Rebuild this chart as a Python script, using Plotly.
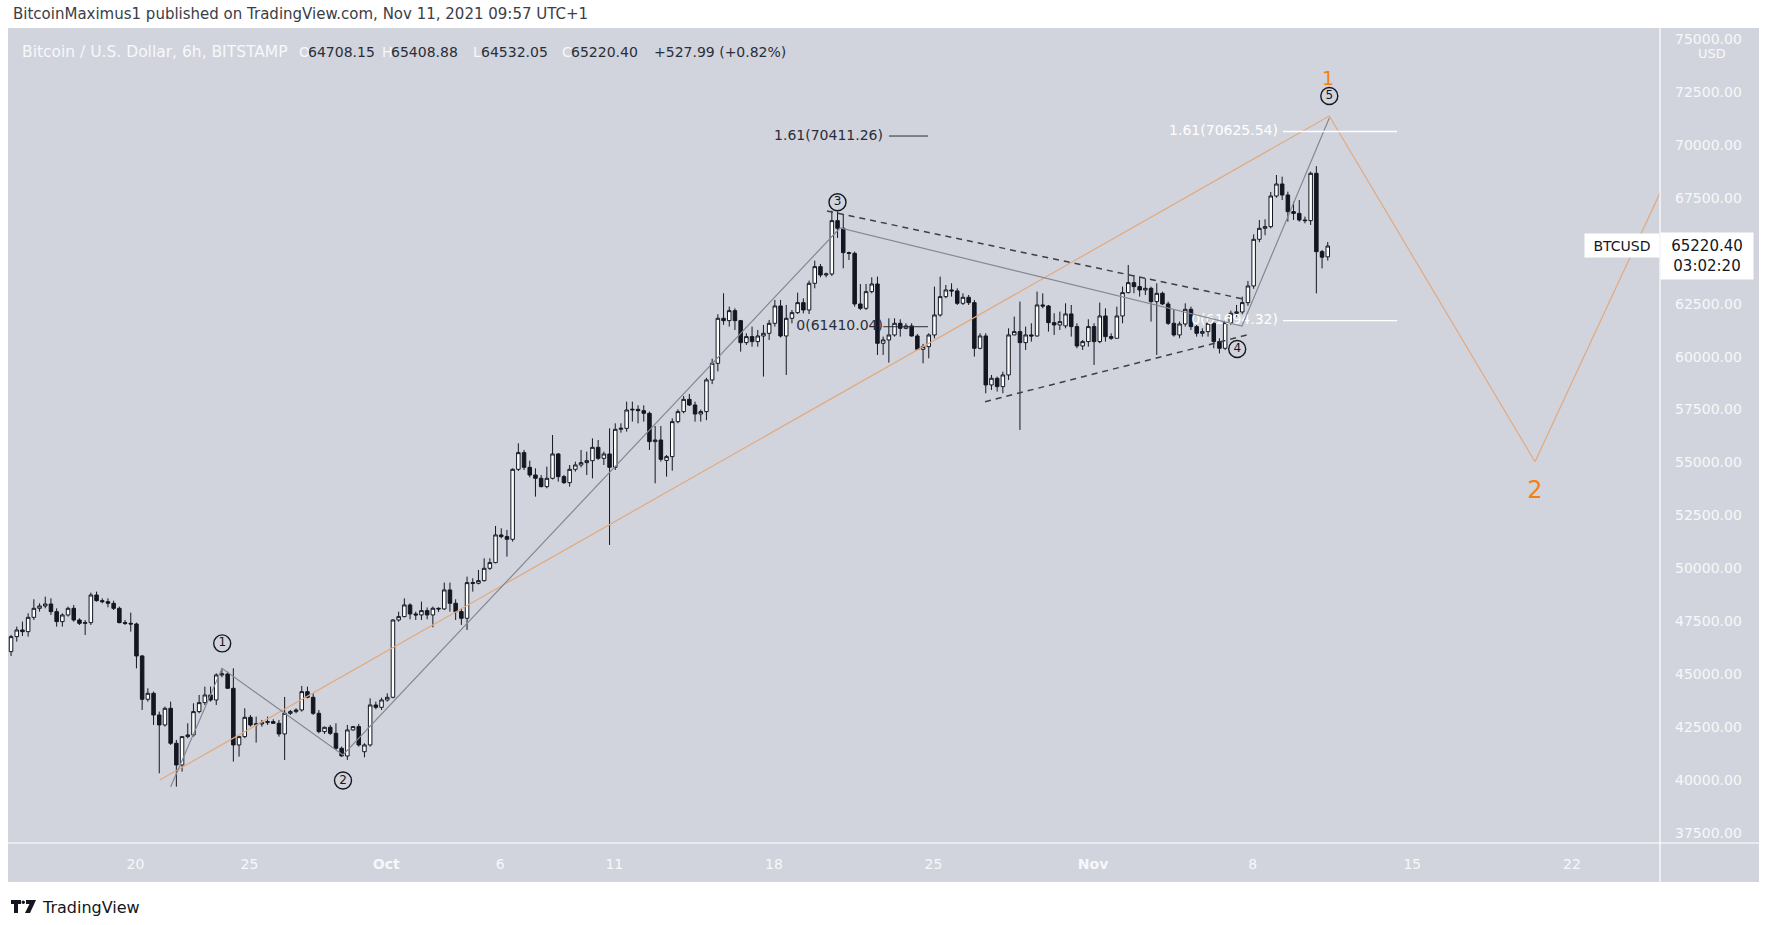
import plotly.graph_objects as go
import pandas as pd

# ---------------- data (BTCUSD, Bitstamp, 6h candles) ----------------
start_time = "2021-09-14 13:00"
opens = [46074, 46782, 47096, 47018, 47694, 48119, 48229, 48323, 47962, 47490,
         47804, 48119, 47568, 47411, 47443, 48748, 48481, 48434, 48355, 48119,
         47443, 47411, 47380, 45870, 43825, 44108, 43085, 42614, 43400, 41749,
         40726, 42063, 42142, 43243, 43667, 44029, 43793, 44973, 45020, 44344,
         41670, 42063, 42975, 42614, 42661, 42724, 42771, 42692, 42189, 43164,
         43243, 43321, 44186, 43919, 43164, 42299, 42503, 42220, 41512, 41150,
         42378, 42535, 41350, 41670, 43557, 43447, 43793, 43919, 47568, 47726,
         48278, 47853, 47806, 48011, 47806, 48121, 48090, 48986, 48357, 47963,
         47649, 49332, 49301, 49426, 50008, 50276, 51582, 51503, 51377, 54680,
         55467, 54774, 54413, 54256, 53862, 54256, 55404, 54334, 54051, 54680,
         54885, 54995, 55089, 55718, 55200, 55404, 54774, 56568, 56615, 57480,
         57511, 57449, 57323, 55986, 56064, 55100, 55278, 56930, 57402, 57983,
         57716, 57291, 57404, 58900, 59684, 61808, 61698, 62170, 61698, 60660,
         60943, 60707, 60974, 61100, 61572, 62390, 60974, 61808, 62075, 62547,
         62201, 63460, 64246, 63853, 63900, 66417, 66055, 64907, 64875, 62484,
         62280, 63066, 63428, 60628, 60786, 61021, 61572, 61336, 61446, 60974,
         60345, 60471, 61021, 61965, 62830, 63145, 63100, 62516, 62799, 62547,
         60392, 60974, 58662, 58977, 58583, 59134, 61022, 61179, 60660, 61022,
         60974, 62437, 62390, 61601, 61494, 61450, 62013, 61415, 60503, 60707,
         61415, 60707, 61918, 60943, 60865, 61918, 63019, 63491, 63303, 63145,
         63223, 62595, 62988, 62485, 61572, 61022, 61540, 62233, 61415, 61100,
         61180, 61573, 60707, 60393, 61604, 62044, 62107, 62548, 63334, 65536,
         66055, 66134, 67581, 68147, 67628, 66842, 66760, 66449, 66418, 68651,
         64954, 64708.15]
highs = [46861, 47254, 47490, 47883, 48544, 48355, 48670, 48591, 48119, 47883,
         48198, 48277, 47647, 47568, 48858, 48906, 48591, 48591, 48481, 48198,
         47568, 47915, 47443, 45917, 44344, 44186, 43243, 43478, 43715, 41906,
         42063, 42692, 43636, 44029, 44423, 44423, 45052, 45287, 45130, 45287,
         42063, 43400, 43085, 43007, 42850, 43007, 42881, 42850, 43935, 43321,
         43400, 44454, 44423, 44108, 43321, 42535, 42614, 42692, 41591, 42614,
         42567, 42661, 41749, 43872, 43715, 43900, 44108, 47600, 47962, 48591,
         48357, 47963, 48435, 48160, 48200, 48160, 49332, 49332, 48546, 48121,
         49615, 49537, 49930, 50480, 50480, 52006, 51896, 51818, 54727, 55907,
         55593, 55089, 54727, 54413, 54806, 56300, 55450, 54413, 54884, 55042,
         55593, 55514, 56143, 56064, 55514, 56615, 56851, 56851, 57873, 57873,
         57700, 57700, 57402, 56725, 56725, 55357, 57087, 57512, 58141, 58235,
         57873, 57500, 59000, 59900, 62000, 62990, 62360, 62280, 61730, 61100,
         61415, 61257, 61494, 61730, 62673, 62673, 62437, 62201, 63019, 62752,
         63585, 64529, 64372, 63963, 66889, 66842, 66731, 64955, 64955, 63428,
         63428, 63743, 63774, 60943, 61808, 61808, 61761, 61572, 61572, 61069,
         60597, 61100, 63303, 63775, 63381, 63460, 63223, 62988, 62909, 62673,
         61100, 61100, 59134, 59056, 59291, 61336, 61887, 62595, 61415, 61572,
         63067, 62988, 62437, 62043, 62122, 62516, 62437, 61572, 60786, 61761,
         61572, 62548, 62280, 61100, 62358, 63303, 64325, 63853, 63774, 63696,
         63303, 63460, 63066, 62595, 62201, 61650, 62516, 62359, 61493, 61336,
         61887, 61650, 60864, 61730, 62170, 62437, 62831, 63570, 65771, 66449,
         66480, 67770, 68572, 68494, 67785, 67314, 67392, 66607, 68729, 68990,
         65033, 65408.88]
lows = [45870, 46546, 46813, 46782, 47568, 47962, 48119, 47804, 47254, 47254,
        47726, 47490, 47332, 46861, 47332, 48434, 48355, 48167, 48040, 47411,
        47332, 47018, 45287, 43321, 43715, 42614, 40333, 42535, 41670, 39703,
        40411, 41985, 42063, 43164, 43557, 43715, 43557, 44863, 44422, 40883,
        41119, 41985, 42535, 41780, 42535, 42614, 42661, 42063, 40962, 43085,
        43164, 43243, 43872, 43085, 42220, 42189, 42142, 41433, 41119, 40962,
        42346, 41591, 41087, 41591, 43353, 43320, 43715, 43872, 47490, 47694,
        47602, 47570, 47570, 47600, 47225, 47950, 48042, 47963, 47570, 47334,
        47098, 48907, 49250, 49379, 49930, 50244, 51424, 50559, 51267, 54600,
        54649, 54303, 53390, 53830, 53783, 54200, 54098, 53988, 53862, 54570,
        54774, 54413, 54256, 55121, 54885, 51110, 54649, 56410, 56458, 56930,
        56850, 56930, 55593, 54020, 55042, 54334, 54617, 56851, 57323, 57669,
        56930, 56930, 57000, 58700, 59300, 61500, 61415, 61257, 60235, 60550,
        60470, 60470, 59056, 60786, 61415, 60900, 59134, 61572, 62012, 62043,
        62012, 63223, 63743, 63743, 63806, 65600, 64168, 64560, 62358, 62201,
        62201, 62988, 60078, 60078, 59716, 60943, 60943, 61289, 60943, 60314,
        59684, 59920, 60864, 61887, 62752, 62830, 62437, 62437, 62437, 60000,
        60345, 58269, 58426, 58347, 58269, 58898, 61022, 56539, 60314, 60707,
        60943, 62280, 61179, 61022, 61258, 61336, 60943, 60393, 60314, 60471,
        59606, 60629, 60708, 60786, 60865, 61572, 62988, 62988, 62831, 62909,
        61651, 60078, 62437, 61494, 60943, 60865, 61415, 61258, 60943, 60943,
        60943, 60393, 60150, 60314, 61500, 61887, 62000, 62400, 63200, 65400,
        65730, 66055, 67500, 67392, 66370, 66449, 66370, 66291, 66213, 62988,
        64168, 64532.05]
closes = [46782, 47096, 47018, 47694, 48119, 48229, 48323, 47962, 47490, 47804,
          48119, 47568, 47411, 47443, 48748, 48481, 48434, 48355, 48119, 47443,
          47411, 47380, 45870, 43825, 44108, 43085, 42614, 43400, 41749, 40726,
          42063, 42142, 43243, 43667, 44029, 43793, 44973, 45020, 44344, 41670,
          42063, 42975, 42614, 42661, 42724, 42771, 42692, 42189, 43164, 43243,
          43321, 44186, 43919, 43164, 42299, 42503, 42220, 41512, 41150, 42378,
          42535, 41670, 41670, 43557, 43447, 43793, 43919, 47568, 47726, 48278,
          47853, 47806, 48011, 47806, 48121, 48090, 48986, 48357, 47963, 47649,
          49332, 49301, 49426, 50008, 50276, 51582, 51503, 51377, 54680, 55467,
          54774, 54413, 54256, 53862, 54256, 55404, 54334, 54051, 54680, 54885,
          54995, 55089, 55718, 55200, 55404, 54774, 56568, 56615, 57480, 57511,
          57449, 57323, 55986, 56064, 55152, 55278, 56930, 57402, 57983, 57716,
          57291, 57404, 58900, 59684, 61808, 61698, 62170, 61698, 60660, 60943,
          60707, 60974, 61100, 61572, 62390, 60974, 61808, 62075, 62547, 62201,
          63460, 64246, 63853, 63900, 66417, 66055, 64907, 64875, 62484, 62280,
          63066, 63428, 60628, 60786, 61021, 61572, 61336, 61446, 60974, 60345,
          60471, 61021, 61965, 62830, 63145, 63100, 62516, 62799, 62547, 60392,
          60974, 58662, 58977, 58583, 59134, 61022, 61179, 60660, 61022, 60974,
          62437, 62390, 61601, 61494, 61650, 62013, 61415, 60503, 60707, 61415,
          60707, 61918, 60943, 60865, 61918, 63019, 63491, 63303, 63145, 63223,
          62595, 62988, 62485, 61572, 61022, 61540, 62233, 61415, 61100, 61180,
          61573, 60707, 60393, 61604, 62044, 62107, 62548, 63334, 65536, 66055,
          66134, 67581, 68147, 67628, 66842, 66760, 66449, 66418, 68651, 64954,
          64692.41, 65220.40]

# x-axis ticks
tick_dates = ["2021-09-20", "2021-09-25", "2021-10-01", "2021-10-06", "2021-10-11",
              "2021-10-18", "2021-10-25", "2021-11-01", "2021-11-08", "2021-11-15", "2021-11-22"]
tick_labels = ["20", "25", "<b>Oct</b>", "6", "11", "18", "25", "<b>Nov</b>", "8", "15", "22"]
# 65000.00 sits under the last-price box, so it is not shown
price_ticks = [37500, 40000, 42500, 45000, 47500, 50000, 52500, 55000, 57500,
               60000, 62500, 67500, 70000, 72500, 75000]

# drawings (time, price)
orange_t = ["2021-09-21 01:28", "2021-11-11 08:38", "2021-11-20 09:10", "2021-11-27 14:40"]
orange_p = [40016, 71357, 55040, 71762]
wave_t = ["2021-09-21 13:03", "2021-09-23 19:03", "2021-09-29 02:25",
          "2021-10-20 21:36", "2021-11-07 12:42", "2021-11-11 08:38"]
wave_p = [39700, 45288, 41196, 66070, 61445, 71262]
upper_t = ["2021-10-20 07:55", "2021-11-07 16:48"]
upper_p = [66873, 62695]
lower_t = ["2021-10-27 06:14", "2021-11-07 18:00"]
lower_p = [57872, 61020]
circle_labels = ["1", "2", "3", "4", "5"]
circle_t = ["2021-09-23 19:16", "2021-09-29 02:25", "2021-10-20 18:57",
            "2021-11-07 07:41", "2021-11-11 08:38"]
circle_p = [46463, 39992, 67288, 60359, 72301]
fib_black_levels = [70411.26, 61410.04]
fib_black_names = ["1.61", "0"]
fib_white_levels = [70625.54, 61694.32]
fib_white_names = ["1.61", "0"]
wave_big_labels = ["1", "2"]
wave_big_t = ["2021-11-11 07:12", "2021-11-20 09:10"]
wave_big_p = [73050, 53624]

times = pd.date_range(start_time, periods=len(opens), freq="6h")

# ---------------- styling ----------------
BG = "#d1d4dc"
DARK = "#131722"
LIGHT = "#f7f8fb"
FONT = "DejaVu Sans, Liberation Sans, sans-serif"
W, H = 1770, 925
L, R, T, B = 8, 1660, 28, 843


def px(x):
    return (x - L) / (R - L)


def py(y):
    return (B - y) / (B - T)


fig = go.Figure()

# fib labels (sit underneath candles)
fig.add_trace(go.Scatter(
    x=["2021-10-22 18:50"] * 2, y=fib_black_levels, mode="text",
    text=[f"{n}({v:.2f})" for n, v in zip(fib_black_names, fib_black_levels)],
    textposition="middle left", textfont=dict(family=FONT, size=14, color="#2a2e39"),
    hoverinfo="skip", showlegend=False))
fig.add_trace(go.Scatter(
    x=["2021-11-09 02:38"] * 2, y=fib_white_levels, mode="text",
    text=[f"{n}({v:.2f})" for n, v in zip(fib_white_names, fib_white_levels)],
    textposition="middle left", textfont=dict(family=FONT, size=14, color="#ffffff"),
    hoverinfo="skip", showlegend=False))

fig.add_trace(go.Candlestick(
    x=times, open=opens, high=highs, low=lows, close=closes,
    increasing=dict(fillcolor="#ffffff", line=dict(color=DARK, width=1)),
    decreasing=dict(fillcolor=DARK, line=dict(color=DARK, width=1)),
    whiskerwidth=0, showlegend=False, hoverinfo="skip"))

fig.add_trace(go.Scatter(x=orange_t, y=orange_p, mode="lines",
                         line=dict(color="#e3a97f", width=1.2),
                         hoverinfo="skip", showlegend=False))
fig.add_trace(go.Scatter(x=wave_t, y=wave_p, mode="lines",
                         line=dict(color="#858892", width=1.2),
                         hoverinfo="skip", showlegend=False))
for tt, pp in ((upper_t, upper_p), (lower_t, lower_p)):
    fig.add_trace(go.Scatter(x=tt, y=pp, mode="lines",
                             line=dict(color="#3c3f48", width=1.5, dash="6px,5px"),
                             hoverinfo="skip", showlegend=False))

# fib level lines
fig.add_trace(go.Scatter(
    x=["2021-10-23 01:09", "2021-10-24 18:13", None, "2021-10-22 19:10", "2021-10-24 18:13"],
    y=[fib_black_levels[0], fib_black_levels[0], None, fib_black_levels[1], fib_black_levels[1]],
    mode="lines", line=dict(color="#2a2e39", width=1), hoverinfo="skip", showlegend=False))
fig.add_trace(go.Scatter(
    x=["2021-11-09 07:54", "2021-11-14 07:54", None, "2021-11-09 07:54", "2021-11-14 07:54"],
    y=[fib_white_levels[0], fib_white_levels[0], None, fib_white_levels[1], fib_white_levels[1]],
    mode="lines", line=dict(color="#ffffff", width=1.3), hoverinfo="skip", showlegend=False))

# orange "1" (partly under the circle 5)
fig.add_trace(go.Scatter(x=wave_big_t[:1], y=wave_big_p[:1], mode="text", text=wave_big_labels[:1],
                         textposition="middle center",
                         textfont=dict(family=FONT, size=19, color="#f57f17"),
                         hoverinfo="skip", showlegend=False, cliponaxis=False))
# circled wave numbers
fig.add_trace(go.Scatter(
    x=circle_t, y=circle_p, mode="markers+text", text=circle_labels,
    textposition="middle center", textfont=dict(family=FONT, size=12, color=DARK),
    marker=dict(symbol="circle", size=17, color=BG, line=dict(color=DARK, width=1.4)),
    hoverinfo="skip", showlegend=False, cliponaxis=False))
fig.add_trace(go.Scatter(x=wave_big_t[1:], y=wave_big_p[1:], mode="text", text=wave_big_labels[1:],
                         textposition="middle center",
                         textfont=dict(family=FONT, size=24, color="#f57f17"),
                         hoverinfo="skip", showlegend=False))

shapes = [
    dict(type="rect", xref="paper", yref="paper", x0=px(8), x1=px(1759), y0=py(882), y1=py(28),
         fillcolor=BG, line=dict(width=0), layer="below"),
    dict(type="line", xref="paper", yref="paper", x0=px(1660), x1=px(1660), y0=py(882), y1=py(28),
         line=dict(color="#ffffff", width=1.2)),
    dict(type="line", xref="paper", yref="paper", x0=px(8), x1=px(1759), y0=py(843), y1=py(843),
         line=dict(color="#ffffff", width=1.2)),
]


def path(points):
    s = "M " + " L ".join(f"{px(x):.5f},{py(y):.5f}" for x, y in points) + " Z"
    return s


logo_color = "#131722"
shapes += [
    dict(type="path", xref="paper", yref="paper",
         path=path([(11, 900), (21, 900), (21, 904), (18, 904), (18, 913), (14, 913), (14, 904), (11, 904)]),
         fillcolor=logo_color, line=dict(width=0)),
    dict(type="circle", xref="paper", yref="paper", x0=px(21.5), x1=px(25), y0=py(904), y1=py(900.5),
         fillcolor=logo_color, line=dict(width=0)),
    dict(type="path", xref="paper", yref="paper",
         path=path([(26, 900), (36, 900), (30, 913), (25, 913), (29.5, 904), (26, 904)]),
         fillcolor=logo_color, line=dict(width=0)),
]

ann = []


def text_at(x, y, s, color, size=14, anchor="left", **kw):
    ann.append(dict(xref="paper", yref="paper", x=px(x), y=py(y), text=s, showarrow=False,
                    xanchor=anchor, yanchor="middle",
                    font=dict(family=FONT, size=size, color=color), **kw))


text_at(11, 14, "BitcoinMaximus1 published on TradingView.com, Nov 11, 2021 09:57 UTC+1", "#3b3e47", 15)
text_at(40, 907, "TradingView", "#131722", 16)

chg = closes[-1] - closes[-2]
pct = chg / closes[-2] * 100
text_at(20, 52, "Bitcoin / U.S. Dollar, 6h, BITSTAMP", LIGHT, 15.5)
header = [
    (297, "O", LIGHT), (306, f"{opens[-1]:.2f}", "#2a2e39"),
    (380, "H", LIGHT), (389, f"{highs[-1]:.2f}", "#2a2e39"),
    (471, "L", LIGHT), (479, f"{lows[-1]:.2f}", "#2a2e39"),
    (560, "C", LIGHT), (569, f"{closes[-1]:.2f}", "#2a2e39"),
    (652, f"{chg:+.2f} ({pct:+.2f}%)", "#2a2e39"),
]
for x, s, c in header:
    text_at(x, 52, s, c, 14)

text_at(1712, 53, "USD", LIGHT, 13, anchor="center", bgcolor=BG, borderpad=1)
text_at(1622, 245.5, "BTCUSD", DARK, 14, anchor="center", bgcolor="#ffffff",
        width=70, height=19, borderpad=2)
text_at(1707, 256, f"{closes[-1]:.2f}<br>03:02:20", DARK, 15, anchor="center", bgcolor="#ffffff",
        width=86, height=40, borderpad=3)

fig.update_layout(
    width=W, height=H,
    margin=dict(l=L, r=W - R, t=T, b=H - B, pad=0),
    paper_bgcolor="#ffffff", plot_bgcolor=BG,
    boxgap=0.12,
    showlegend=False,
    shapes=shapes, annotations=ann,
    font=dict(family=FONT),
    xaxis=dict(type="date", range=["2021-09-14 09:47:20", "2021-11-25 20:44:10"],
               rangeslider=dict(visible=False), showgrid=False, zeroline=False, showline=False,
               tickmode="array", tickvals=tick_dates, ticktext=tick_labels, ticks="",
               tickfont=dict(family=FONT, size=14, color=LIGHT), ticklabelstandoff=11,
               fixedrange=True),
    yaxis=dict(side="right", range=[37042, 75510], showgrid=False, zeroline=False, showline=False,
               tickmode="array", tickvals=price_ticks, ticktext=[f"{v:.2f}" for v in price_ticks],
               ticks="", tickfont=dict(family=FONT, size=14, color=LIGHT), ticklabelstandoff=14,
               fixedrange=True),
)

fig.write_html("out.html")
